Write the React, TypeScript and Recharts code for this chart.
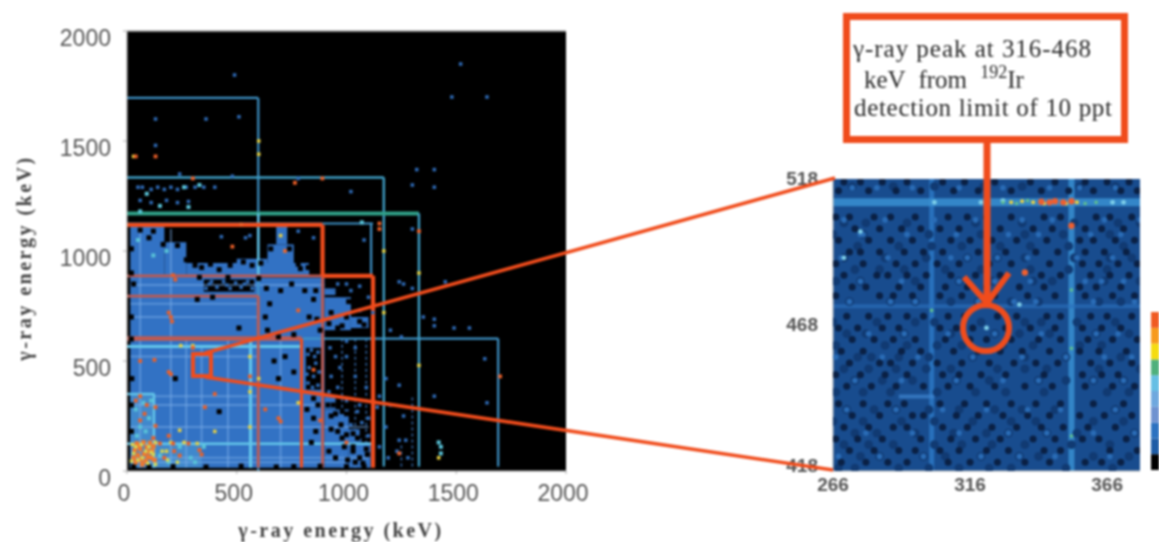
import React from "react";
import { ScatterChart, Scatter, XAxis, YAxis, ReferenceArea, ReferenceLine, BarChart, Bar } from "recharts";

// ---------- overview matrix (keV) ----------
const overviewTicks = [0, 500, 1000, 1500, 2000];
const blueRegions = [
  [15, 15, 600, 890], [600, 15, 900, 880], [900, 15, 1010, 280], [1010, 15, 1110, 130],
  [900, 130, 1060, 190], [900, 640, 1020, 790], [1020, 650, 1100, 700], [15, 890, 170, 1110],
  [170, 890, 270, 1040], [270, 890, 830, 945], [640, 945, 760, 1030], [680, 1030, 730, 1110],
  [900, 280, 950, 340], [900, 800, 950, 830], [500, 945, 640, 965],
];
const glowRegions = [[15, 15, 340, 130], [15, 130, 125, 350]];
const holeRegions = [[350, 815, 580, 870], [815, 370, 885, 560]];
// horizontal segments: y, from x, to x ; vertical segments: x, from y, to y
const lightH = [[60, 15, 1100], [200, 15, 1100], [300, 15, 900], [340, 125, 600], [520, 15, 600], [700, 15, 600], [760, 15, 600], [845, 15, 900], [40, 15, 1000]];
const lightV = [[60, 15, 1100], [200, 15, 1100], [270, 15, 600], [340, 130, 560], [460, 15, 600], [700, 15, 600]];
const dottedV = [[980, 15, 600], [1040, 15, 600], [1090, 15, 600], [1250, 20, 130], [1300, 20, 340]];
const frameSegments = [[0, 2000, 2000, 2000]];
const blueSegments = [
  [0, 1696, 598, 1696], [598, 0, 598, 1696], [800, 602, 1691, 602], [1691, 20, 1691, 602],
  [0, 1125, 1121, 1125], [1112, 887, 1112, 1125],
];
const tealSegments = [
  [0, 1334, 1170, 1334], [1170, 20, 1170, 1334], [0, 1171, 1330, 1171], [1330, 20, 1330, 1171],
];
const cyanSegments = [
  [0, 566, 800, 566], [563, 15, 563, 600], [0, 124, 1120, 124], [123, 15, 123, 350], [0, 350, 125, 350], [598, 880, 598, 1171],
];
const mutedSegments = [
  [0, 887, 891, 887], [891, 15, 891, 887], [0, 795, 598, 795], [598, 15, 598, 795], [0, 602, 795, 602],
];
const orangeSegments = [
  [0, 1119, 891, 1119], [891, 887, 891, 1119], [891, 887, 1121, 887], [1121, 15, 1121, 887], [795, 15, 795, 602],
];
const hotCore = [
  [40, 40], [62, 52], [85, 45], [110, 60], [50, 72], [78, 78], [100, 88], [125, 50], [35, 95], [60, 100], [90, 108], [120, 112], [45, 125], [75, 130], [105, 128], [30, 60], [70, 30], [95, 65], [55, 115], [115, 90],
];
const coreMixed = [
  [50, 50], [30, 80], [70, 60], [95, 35], [110, 85], [65, 120], [40, 110], [85, 90], [120, 75], [100, 110], [130, 30], [20, 45], [160, 90], [185, 50], [230, 40],
];
const hotSpots = [
  [150, 125], [210, 125], [280, 125], [170, 60], [215, 90], [240, 70], [330, 95], [340, 75], [60, 230], [90, 300], [130, 290], [120, 150], [130, 205], [40, 320], [60, 340], [80, 260], [190, 160],
  [210, 890], [220, 870], [200, 700], [190, 720], [205, 680], [190, 450], [200, 440], [690, 240], [700, 225], [300, 560], [400, 350], [355, 290], [560, 430], [630, 280], [765, 1310],
  [40, 1430], [130, 1430], [890, 1330], [520, 1120], [1150, 1125], [1150, 1100], [1330, 1090], [1700, 430], [850, 460], [780, 730], [60, 500], [125, 505], [300, 1330], [1000, 130], [1240, 80],
  [880, 230], [480, 1020], [720, 1000],
];
const yellowSpots = [
  [25, 120], [130, 130], [180, 90], [320, 125], [200, 130], [240, 185], [260, 130], [560, 200], [600, 420], [560, 360],
  [30, 1430], [1330, 900], [1170, 1000], [600, 1500], [600, 1440], [700, 1070], [1420, 60], [300, 570], [245, 570], [560, 520], [1170, 720], [1330, 480], [780, 310], [400, 180],
];
const cyanSpots = [
  [45, 160], [85, 180], [60, 200], [100, 240], [40, 280], [75, 310], [110, 320], [150, 70], [190, 40], [240, 110], [290, 60], [310, 40], [350, 110], [180, 1000], [50, 1050], [120, 980],
  [280, 1200], [150, 1205], [60, 1180], [90, 1260], [260, 1290], [330, 1300], [1430, 110], [1430, 80], [1420, 130], [720, 1000], [1070, 1130],
];
const blueSpecks = [
  [1300, 1100], [1300, 1300], [1630, 510], [1640, 310], [1520, 1850], [1480, 1700], [1640, 1700], [490, 1800], [360, 1600], [510, 1610], [130, 1600], [130, 1480], [240, 1350], [480, 1340], [780, 1330], [1020, 1270],
  [1400, 1370], [1320, 1370], [1400, 1290], [110, 1280], [170, 1280], [230, 1280], [50, 1290], [70, 1290], [140, 1290], [200, 1290], [270, 1290], [310, 1290], [350, 1290], [400, 1290],
  [60, 1230], [110, 1220], [180, 1230], [230, 1220], [280, 1225], [1080, 1050], [1200, 640], [1250, 610], [1300, 830], [1400, 660], [1450, 860], [1490, 650], [1560, 650], [1240, 860], [1260, 850],
  [1180, 420], [1200, 300], [1260, 250], [1180, 200], [1230, 90], [1150, 340], [1270, 140], [1350, 700], [1400, 690], [1400, 340], [1000, 850], [1060, 840], [960, 850], [1020, 820], [1100, 790], [940, 820],
  [1040, 560], [1000, 520], [1040, 430], [1090, 380], [970, 470], [1060, 300], [920, 360], [850, 1060], [780, 1090], [560, 1070], [430, 1065], [540, 1060], [1240, 390], [1140, 290], [1100, 240], [1050, 270],
  [1020, 210], [1070, 220], [1000, 320], [960, 380], [930, 430], [950, 520], [925, 560], [1000, 590], [1060, 140], [1100, 160], [1150, 110], [1190, 60], [1240, 140], [1280, 60], [1120, 720], [1060, 730],
  [360, 830], [385, 860], [410, 835], [440, 860], [470, 830], [495, 855], [520, 835], [550, 860], [570, 830], [375, 850], [455, 845], [535, 850],
  [825, 400], [850, 430], [870, 390], [830, 470], [860, 490], [825, 530], [870, 540], [845, 380], [875, 450], [840, 550], [855, 520], [820, 440],
];
const blackSpecks = [
  [20, 1010], [20, 900], [30, 850], [20, 700], [20, 600], [22, 420], [20, 300], [20, 180], [30, 20], [100, 18], [210, 20], [360, 18], [520, 22], [680, 18], [760, 20], [880, 22], [1000, 20], [1080, 20],
  [310, 935], [340, 925], [380, 940], [420, 915], [470, 935], [530, 950], [570, 935], [610, 945], [780, 940], [790, 920], [825, 925], [840, 940], [655, 1010], [740, 1010], [165, 1030], [230, 1025], [120, 1090], [100, 1060], [60, 1095],
  [630, 700], [650, 760], [635, 830], [640, 640], [700, 820], [750, 850], [810, 820], [850, 780], [860, 820], [830, 700], [880, 640], [865, 690], [690, 610], [760, 620], [670, 500], [690, 420], [720, 520], [760, 450],
  [850, 330], [820, 280], [850, 240], [870, 300], [860, 180], [840, 130], [930, 250], [960, 180], [1000, 260], [990, 110], [1030, 90], [1060, 60], [1090, 100], [920, 90], [950, 60], [1005, 50],
  [930, 720], [960, 650], [1000, 700], [1010, 770], [1060, 680], [980, 660], [920, 670], [1080, 665], [220, 420], [420, 270], [510, 650], [390, 790], [320, 780], [460, 880], [330, 880], [600, 875], [270, 960],
  [1050, 150], [1030, 170], [980, 150], [940, 300], [980, 270], [930, 190], [1040, 40], [1075, 35], [1030, 110], [975, 210], [950, 260], [1095, 75], [1000, 165], [915, 300],
];

// ---------- zoomed matrix (keV) ----------
const zoomDomainX = [266, 378];
const zoomDomainY = [418, 518];
const zoomXTicks = [266, 316, 366];
const zoomYTicks = [418, 468, 518];
const zoomVLines = [302, 353];
const zoomHLines = [510, 474.4];
const zoomFaintLine = [[290, 443.5], [303, 443.5]];
const zoomOrangeSpots = [[353, 502], [336, 486], [345, 510], [347, 510.4], [353, 510.4], [342, 510.2], [350, 510]];
const zoomYellowSpots = [[331, 510], [335, 510.4], [339, 510], [343, 509.6], [351, 509.6], [355, 510]];
const zoomGreenSpots = [[328, 510], [333, 509.6], [337, 510.6], [358, 509.6], [362, 510], [353, 460], [353, 480], [353, 430], [302, 473]];
const zoomCyanSpots = [[322, 467], [328, 510.6], [368, 510], [372, 510], [303, 510], [320, 510], [334, 475], [276, 500], [270, 491]];
const darkRows: [number, number[]][] = [
  [517, [270, 276, 284, 293, 306, 314, 325, 338, 347, 358, 366, 374]],
  [514, [268, 279, 289, 298, 310, 319, 331, 342, 352, 361, 371, 377]],
  [505, [267, 272, 281, 287, 296, 308, 315, 322, 331, 343, 349, 362, 367, 375]],
  [501, [274, 283, 291, 298, 305, 312, 327, 339, 346, 358, 364, 372]],
  [497, [268, 279, 287, 295, 309, 316, 324, 333, 344, 356, 361, 369, 376]],
  [493, [272, 276, 283, 292, 299, 306, 319, 329, 340, 348, 358, 365, 373]],
  [489, [267, 277, 289, 296, 304, 312, 323, 331, 345, 357, 363, 370, 377]],
  [485, [270, 282, 286, 293, 300, 309, 318, 327, 342, 349, 360, 367, 374]],
  [481, [273, 278, 290, 298, 307, 315, 322, 334, 343, 356, 362, 371]],
  [478, [267, 283, 288, 295, 305, 313, 325, 337, 347, 358, 368, 376]],
  [471, [271, 279, 286, 293, 299, 308, 314, 326, 333, 344, 349, 360, 366, 375]],
  [467, [268, 275, 284, 290, 305, 311, 317, 329, 338, 347, 357, 364, 371]],
  [463, [273, 281, 288, 296, 307, 316, 322, 331, 341, 349, 359, 368, 377]],
  [459, [269, 277, 291, 298, 310, 319, 327, 335, 345, 356, 363, 373]],
  [455, [272, 283, 287, 295, 304, 313, 323, 332, 340, 348, 360, 367, 375]],
  [451, [267, 276, 285, 293, 306, 312, 320, 329, 343, 357, 364, 370]],
  [447, [271, 280, 289, 299, 308, 316, 325, 336, 346, 358, 368, 376]],
  [441, [268, 277, 286, 292, 305, 314, 322, 331, 340, 349, 361, 372]],
  [437, [273, 283, 295, 299, 311, 319, 328, 337, 345, 356, 365, 375]],
  [433, [270, 279, 288, 293, 306, 315, 324, 333, 342, 350, 359, 369]],
  [429, [267, 275, 284, 298, 309, 318, 327, 339, 347, 357, 363, 373]],
  [425, [272, 281, 290, 296, 305, 312, 322, 330, 343, 349, 367, 377]],
  [421, [269, 278, 286, 293, 308, 316, 326, 336, 345, 358, 364, 371]],
];
const midRows: [number, number[]][] = [
  [515.5, [273, 288, 303, 321, 335, 356, 369]],
  [503, [270, 278, 293, 318, 335, 354, 370, 378]],
  [499, [266, 277, 301, 320, 336, 350, 367]],
  [495, [275, 290, 302, 313, 327, 338, 352, 372]],
  [491, [270, 285, 300, 315, 326, 336, 354, 367, 375]],
  [487, [274, 283, 292, 307, 320, 338, 352, 366]],
  [483, [267, 276, 296, 312, 324, 339, 346, 365, 378]],
  [476, [272, 287, 296, 309, 319, 331, 341, 363, 371]],
  [469, [266, 282, 296, 303, 320, 336, 342, 355, 369]],
  [465, [271, 278, 292, 309, 325, 334, 345, 362, 374]],
  [461, [267, 285, 293, 304, 313, 328, 339, 356, 364]],
  [457, [275, 280, 290, 301, 317, 336, 351, 371]],
  [453, [270, 279, 289, 300, 309, 326, 336, 344, 363, 378]],
  [449, [274, 284, 295, 311, 323, 341, 351, 361, 372]],
  [445, [267, 277, 287, 304, 318, 329, 343, 366, 374]],
  [439, [271, 281, 289, 301, 312, 325, 335, 347, 369]],
  [435, [266, 277, 291, 303, 317, 331, 340, 361, 372]],
  [431, [274, 282, 296, 310, 322, 330, 344, 355, 376]],
  [427, [270, 279, 288, 303, 313, 324, 336, 353, 367]],
  [423, [276, 283, 299, 307, 320, 334, 341, 361, 374]],
  [419, [268, 274, 290, 301, 312, 323, 331, 351, 368]],
];
const brightRows: [number, number[]][] = [
  [515, [273, 282, 295, 312, 328, 345, 356, 369]],
  [504, [270, 285, 303, 318, 335, 346, 365, 378]],
  [499, [277, 276, 293, 311, 330, 341, 360, 371]],
  [491, [269, 286, 309, 315, 326, 337, 355, 368]],
  [483, [276, 291, 312, 325, 338, 358, 364, 372]],
  [476, [272, 287, 296, 319, 332, 340, 361, 376]],
  [465, [279, 292, 308, 325, 342, 362, 370]],
  [457, [267, 284, 297, 317, 335, 351, 365, 375]],
  [449, [274, 291, 311, 328, 341, 361, 372]],
  [439, [271, 289, 306, 322, 337, 349, 369]],
  [431, [278, 295, 312, 330, 344, 361, 376]],
  [423, [268, 283, 299, 320, 334, 347, 367]],
];
const flatten = (rows: [number, number[]][]) => rows.flatMap(([y, xs]) => xs.map((x) => ({ x, y })));
const darkSpots = flatten(darkRows);
const midSpots = flatten(midRows);
const brightSpots = flatten(brightRows);

// ---------- colour scale ----------
const scaleBands = ["b0", "b1", "b2", "b3", "b4", "b5", "b6", "b7", "b8", "b9"];
const scaleValues = [1, 1, 1, 1, 1, 1, 1, 1, 1, 1];
const scaleColors = ["#000000", "#1f5da6", "#2c72c0", "#6f92d0", "#6fa8de", "#66bfe4", "#4fb07c", "#f5dc10", "#f79a1c", "#f05a22"];
const scaleRow = [Object.fromEntries(scaleBands.map((k, i) => [k, scaleValues[i]]))];

const pts = (a: number[][]) => a.map(([x, y]) => ({ x, y }));
const ORANGE = "#f04c1c";
const square = (s: number, fill: string) => (p: any) => <rect x={p.cx - s / 2} y={p.cy - s / 2} width={s} height={s} fill={fill} />;
const dot = (r: number, fill: string) => (p: any) => <circle cx={p.cx} cy={p.cy} r={r} fill={fill} />;

const seg = (s: number[], color: string, w: number, key: string, opacity = 1, dash?: string) => (
  <ReferenceLine key={key} segment={[{ x: s[0], y: s[1] }, { x: s[2], y: s[3] }]} stroke={color} strokeWidth={w} strokeOpacity={opacity} strokeDasharray={dash} ifOverflow="visible" />
);

const axisTick = { fontFamily: "Liberation Sans", fontSize: 23, fill: "#555" };
const titleStyle: React.CSSProperties = { fontFamily: "Liberation Serif", fontSize: 20, fill: "#444", letterSpacing: 2.5, fontWeight: 700 };

const ZoomXTick = (p: any) => (
  <text x={p.x} y={p.y + 18} textAnchor="middle" style={{ fontFamily: "Liberation Sans", fontSize: 19, fontWeight: 700, fill: "#555" }}>{p.payload.value}</text>
);
const ZoomYTick = (p: any) => (
  <text x={p.x - 13} y={p.y + 6 - (p.payload.value === 418 ? 5 : 0)} textAnchor="end" style={{ fontFamily: "Liberation Sans", fontSize: 19, fontWeight: 700, fill: "#555" }}>{p.payload.value}</text>
);

function OverviewChart() {
  return (
    <div style={{ position: "absolute", left: 0, top: 0 }}>
      <ScatterChart width={1159} height={542} margin={{ left: 67, right: 593, top: 31, bottom: 41 }}>
        <XAxis type="number" dataKey="x" domain={[0, 2000]} ticks={overviewTicks} height={30} stroke="#aaa" tickSize={3} tick={{ ...axisTick, dx: -3, dy: 9 }} interval={0} />
        <YAxis type="number" dataKey="y" domain={[0, 2000]} ticks={overviewTicks} width={60} stroke="#aaa" tickSize={4} tick={{ ...axisTick, dy: 7, dx: -10 }} interval={0} />
        <ReferenceArea x1={0} x2={2000} y1={0} y2={2000} fill="#000" fillOpacity={1} stroke="none" />
        {frameSegments.map((s, i) => seg(s, "#aaa", 1.5, "f" + i))}
        {blueRegions.map((r, i) => <ReferenceArea key={"b" + i} x1={r[0]} y1={r[1]} x2={r[2]} y2={r[3]} fill="#3272c4" fillOpacity={1} stroke="none" />)}
        {glowRegions.map((r, i) => <ReferenceArea key={"g" + i} x1={r[0]} y1={r[1]} x2={r[2]} y2={r[3]} fill="#4088cc" fillOpacity={1} stroke="none" />)}
        {holeRegions.map((r, i) => <ReferenceArea key={"k" + i} x1={r[0]} y1={r[1]} x2={r[2]} y2={r[3]} fill="#000" fillOpacity={1} stroke="none" />)}
        {lightH.map((s, i) => seg([s[1], s[0], s[2], s[0]], "#7eb0ea", 2, "lh" + i, 0.5))}
        {lightV.map((s, i) => seg([s[0], s[1], s[0], s[2]], "#7eb0ea", 2, "lv" + i, 0.5))}
        {dottedV.map((s, i) => seg([s[0], s[1], s[0], s[2]], "#3f7cc8", 1.6, "dv" + i, 0.8, "3 3"))}
        <Scatter name="blue" data={pts(blueSpecks)} shape={square(3.5, "#2f6cb8")} isAnimationActive={false} />
        <Scatter name="black" data={pts(blackSpecks)} shape={square(5, "#000")} isAnimationActive={false} />
        {blueSegments.map((s, i) => seg(s, "#3f93c8", 2.2, "bs" + i))}
        {tealSegments.map((s, i) => seg(s, i === 2 ? "#30a088" : "#3f9fc6", i === 2 ? 4 : 2.4, "ts" + i))}
        {cyanSegments.map((s, i) => seg(s, "#63c6ea", i < 2 ? 3.2 : 2.4, "cs" + i))}
        {mutedSegments.map((s, i) => seg(s, "#c05a50", i === 4 ? 4.5 : 2.8, "ms" + i))}
        {orangeSegments.map((s, i) => seg(s, ORANGE, i === 4 ? 3 : 4.2, "os" + i))}
        <Scatter name="cyan" data={pts(cyanSpots)} shape={square(4, "#59c3d8")} isAnimationActive={false} />
        <Scatter name="yellow" data={pts(yellowSpots)} shape={square(3.5, "#e8d040")} isAnimationActive={false} />
        <Scatter name="hot" data={pts(hotSpots)} shape={square(3.8, "#ea5f28")} isAnimationActive={false} />
        <Scatter name="core" data={pts(hotCore)} shape={square(4.6, "#f0762c")} isAnimationActive={false} />
        <Scatter name="mixed" data={pts(coreMixed)} shape={square(3.4, "#d8d850")} isAnimationActive={false} />
      </ScatterChart>
    </div>
  );
}

function ZoomChart() {
  return (
    <div style={{ position: "absolute", left: 0, top: 0 }}>
      <ScatterChart width={1159} height={542} margin={{ left: 773, right: 19, top: 179, bottom: 41 }}>
        <XAxis type="number" dataKey="x" domain={zoomDomainX} ticks={zoomXTicks} allowDataOverflow height={30} stroke="#bbb" tickSize={0} tick={ZoomXTick} interval={0} />
        <YAxis type="number" dataKey="y" domain={zoomDomainY} ticks={zoomYTicks} allowDataOverflow width={60} stroke="#bbb" tickSize={0} tick={ZoomYTick} interval={0} />
        <ReferenceArea x1={266} x2={378} y1={418} y2={518} fill="#184c8e" fillOpacity={1} stroke="none" />
        <Scatter name="mid" data={midSpots} shape={dot(4.4, "#113a72")} isAnimationActive={false} />
        <Scatter name="dark" data={darkSpots} shape={dot(3.5, "#0a2044")} isAnimationActive={false} />
        <Scatter name="bright" data={brightSpots} shape={dot(2.8, "#2a6cb6")} isAnimationActive={false} />
        {zoomVLines.map((x, i) => <ReferenceLine key={"v" + i} x={x} stroke={i ? "#3b93d6" : "#2d7ac8"} strokeWidth={i ? 6 : 5} strokeOpacity={0.8} />)}
        {zoomHLines.map((y, i) => <ReferenceLine key={"h" + i} y={y} stroke={i ? "#2b70bd" : "#3a90d2"} strokeWidth={i ? 4 : 8} strokeOpacity={i ? 0.65 : 0.85} />)}
        <ReferenceLine segment={[{ x: zoomFaintLine[0][0], y: zoomFaintLine[0][1] }, { x: zoomFaintLine[1][0], y: zoomFaintLine[1][1] }]} stroke="#3e86d2" strokeWidth={4} strokeOpacity={0.7} />
        <Scatter name="cyan" data={pts(zoomCyanSpots)} shape={dot(2.4, "#7fd0ea")} isAnimationActive={false} />
        <Scatter name="green" data={pts(zoomGreenSpots)} shape={dot(1.8, "#62c28a")} isAnimationActive={false} />
        <Scatter name="yellow" data={pts(zoomYellowSpots)} shape={dot(2, "#eed23c")} isAnimationActive={false} />
        <Scatter name="orange" data={pts(zoomOrangeSpots)} shape={dot(3.2, "#ee5f30")} isAnimationActive={false} />
      </ScatterChart>
    </div>
  );
}

function ColorScale() {
  return (
    <div style={{ position: "absolute", left: 1151, top: 312 }}>
      <BarChart width={8} height={158} data={scaleRow} margin={{ left: 0, right: 0, top: 0, bottom: 0 }} barCategoryGap={0}>
        <XAxis hide dataKey={() => "scale"} />
        <YAxis hide domain={[0, 10]} width={0} />
        {scaleBands.map((k, i) => <Bar key={k} dataKey={k} stackId="s" fill={scaleColors[i]} isAnimationActive={false} />)}
      </BarChart>
    </div>
  );
}

function Annotations() {
  const serif: React.CSSProperties = { fontFamily: "Liberation Serif", fontSize: 25, fill: "#2a2a2a" };
  return (
    <svg width={1159} height={542} style={{ position: "absolute", left: 0, top: 0, pointerEvents: "none" }}>
      <rect x={846.5} y={16.5} width={278} height={123} fill="#fff" stroke={ORANGE} strokeWidth={7} />
      <line x1={987} y1={143} x2={987} y2={305} stroke={ORANGE} strokeWidth={7} />
      <polyline points="964,277 987,303 1009,273" fill="none" stroke={ORANGE} strokeWidth={6} />
      <circle cx={986} cy={328} r={23} fill="none" stroke={ORANGE} strokeWidth={6} />
      <text x={853} y={57} style={serif} textLength={238}>γ-ray peak at 316-468</text>
      <text x={864} y={88} style={serif} wordSpacing={7}>keV from <tspan fontSize={18} dy={-10}>192</tspan><tspan dy={10}>Ir</tspan></text>
      <text x={854} y={116} style={serif} textLength={258}>detection limit of 10 ppt</text>
      <rect x={193} y={354} width={18} height={22} fill="none" stroke={ORANGE} strokeWidth={4} />
      <line x1={205} y1={353} x2={835} y2={178} stroke={ORANGE} strokeWidth={3.6} />
      <line x1={205} y1={377} x2={833} y2={470} stroke={ORANGE} strokeWidth={3.6} />
      <text x={341} y={537} textAnchor="middle" style={titleStyle}>γ-ray energy  (keV)</text>
      <text transform="translate(31 258) rotate(-90)" textAnchor="middle" style={titleStyle}>γ-ray energy  (keV)</text>
    </svg>
  );
}

export default function App() {
  return (
    <div style={{ position: "absolute", left: 0, top: 0, width: 1159, height: 542, background: "#fff", overflow: "hidden", filter: "blur(0.8px)" }}>
      <OverviewChart />
      <ZoomChart />
      <ColorScale />
      <Annotations />
    </div>
  );
}
